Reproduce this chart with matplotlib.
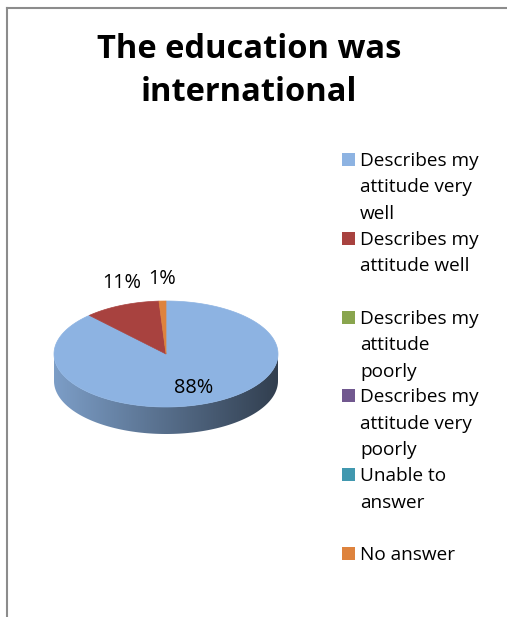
import numpy as np
import matplotlib.pyplot as plt
from matplotlib.patches import Polygon, Rectangle
from matplotlib.lines import Line2D

# Survey answers (percent)
labels = [
    ["Describes my", "attitude very", "well"],
    ["Describes my", "attitude well"],
    ["Describes my", "attitude", "poorly"],
    ["Describes my", "attitude very", "poorly"],
    ["Unable to", "answer"],
    ["No answer"],
]
values = [88, 11, 0, 0, 0, 1]
colors = ["#8DB3E2", "#A8423F", "#89A54E", "#71588F", "#4198AF", "#DE833D"]
title_lines = ["The education was", "international"]

W, H = 507, 617
plt.rcParams['font.family'] = ['Open Sans', 'DejaVu Sans']

fig = plt.figure(figsize=(W / 100, H / 100), dpi=100)
ax = fig.add_axes([0, 0, 1, 1])
ax.set_xlim(0, W)
ax.set_ylim(H, 0)
ax.axis('off')

# frame (left and top edges only)
ax.add_line(Line2D([7, 7], [8, H + 5], color='#8c8c8c', lw=1.5))
ax.add_line(Line2D([7, W + 5], [8, 8], color='#8c8c8c', lw=1.5))

# title
for i, line in enumerate(title_lines):
    ax.text(249, 58 + i * 43, line, ha='center', va='baseline',
            fontsize=23.5, fontweight='bold', color='black')

# 3d pie geometry (pixels)
cx, cy = 166, 354
rx, ry = 112, 53
depth = 27


def pt(t, r=1.0, dz=0.0):
    t = np.radians(t)
    return cx + r * rx * np.cos(t), cy - r * ry * np.sin(t) + dz


total = sum(values)
cum = np.concatenate([[0], np.cumsum(values)])
starts = 90 - cum[:-1] / total * 360
ends = 90 - cum[1:] / total * 360

# side wall: gradient from light (left) to dark (right)
for v, c, a1, a0 in zip(values, colors, starts, ends):
    if v == 0:
        continue
    for k in (-1, 0, 1):
        lo = max(a0, -180 + 360 * k)
        hi = min(a1, 360 * k)
        if hi <= lo:
            continue
        ts = np.linspace(lo, hi, 120)
        top = np.array([pt(t) for t in ts])
        bot = np.array([pt(t, dz=depth) for t in ts[::-1]])
        poly = Polygon(np.vstack([top, bot]), closed=True, fc='none', ec='none')
        ax.add_patch(poly)
        base = np.array(plt.matplotlib.colors.to_rgb(c))
        xs = np.linspace(0, 1, 256)
        shade = 0.88 - 0.53 * xs
        img = np.clip(base[None, None, :] * shade[None, :, None], 0, 1)
        img = np.repeat(img, 2, axis=0)
        im = ax.imshow(img, extent=(cx - rx, cx + rx, cy + ry + depth, cy - ry),
                       aspect='auto', interpolation='bilinear', zorder=1)
        im.set_clip_path(poly)

# top face
for v, c, a1, a0 in zip(values, colors, starts, ends):
    if v == 0:
        continue
    ts = np.linspace(a0, a1, max(int(abs(a1 - a0)), 2) + 1)
    pts = np.vstack([[cx, cy], np.array([pt(t) for t in ts])])
    ax.add_patch(Polygon(pts, closed=True, fc=c, ec=c, lw=0.5, zorder=2))

# value labels
for v, a1, a0 in zip(values, starts, ends):
    if v == 0:
        continue
    mid = (a0 + a1) / 2
    if v >= 50:
        x, y = pt(mid, r=0.68)
    else:
        x, y = pt(mid)
        y -= 22
    ax.text(x, y, f"{v}%", ha='center', va='center', fontsize=14.3,
            color='black', zorder=3)

# legend
for i, (lines, c) in enumerate(zip(labels, colors)):
    base_y = 166 + i * 78.8
    ax.add_patch(Rectangle((342, base_y - 13), 13, 13, fc=c, ec='none'))
    for j, s in enumerate(lines):
        ax.text(360, base_y + j * 26.5, s, ha='left', va='baseline',
                fontsize=13.7, color='black')

fig.savefig("out.png", dpi=100)
